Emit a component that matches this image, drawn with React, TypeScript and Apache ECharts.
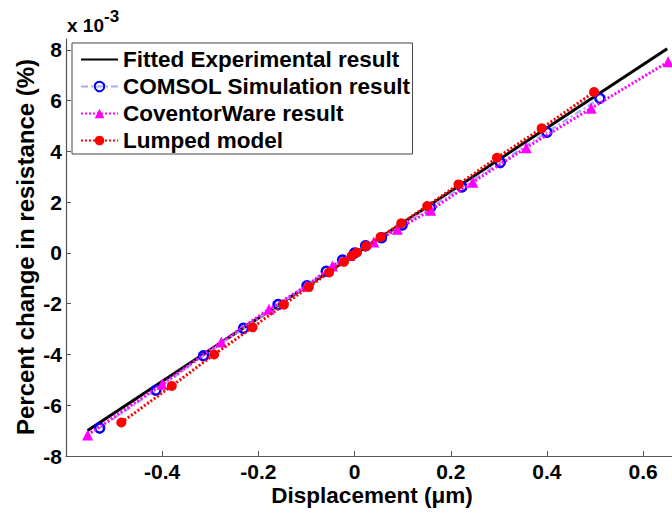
import React, { useEffect, useRef } from "react";
import * as echarts from "echarts";

const fittedX = [-0.555, 0.65];
const fittedY = [-7.0, 8.05];

const comsolX = [-0.53, -0.413, -0.314, -0.231, -0.159, -0.099, -0.059, -0.025, 0, 0.023, 0.056, 0.099, 0.158, 0.223, 0.303, 0.4, 0.51];
const comsolY = [-6.9, -5.41, -4.05, -2.97, -2.03, -1.29, -0.72, -0.28, 0, 0.28, 0.6, 1.1, 1.79, 2.6, 3.56, 4.76, 6.09];

const coventorX = [-0.555, -0.4, -0.277, -0.178, -0.1, -0.046, -0.01, 0.04, 0.089, 0.158, 0.246, 0.357, 0.492, 0.652];
const coventorY = [-7.17, -5.17, -3.51, -2.22, -1.3, -0.51, -0.1, 0.43, 0.93, 1.68, 2.79, 4.15, 5.7, 7.53];

const lumpedX = [-0.485, -0.38, -0.292, -0.212, -0.147, -0.095, -0.053, -0.022, -0.006, 0.005, 0.024, 0.054, 0.097, 0.151, 0.216, 0.296, 0.389, 0.498];
const lumpedY = [-6.68, -5.24, -4.0, -2.93, -2.04, -1.34, -0.77, -0.35, -0.12, 0.02, 0.27, 0.63, 1.17, 1.85, 2.7, 3.75, 4.91, 6.34];

const xTicks = [-0.4, -0.2, 0, 0.2, 0.4, 0.6];
const yTicks = [-8, -6, -4, -2, 0, 2, 4, 6, 8];

const seriesNames = [
  "Fitted Experimental result",
  "COMSOL Simulation result",
  "CoventorWare result",
  "Lumped model",
];

const zip = (xs: number[], ys: number[]) => xs.map((x, i) => [x, ys[i]]);

const FONT = "'Liberation Sans', Arial, sans-serif";

export default function App() {
  const ref = useRef<HTMLDivElement>(null);
  useEffect(() => {
    if (!ref.current) return;
    const chart = echarts.init(ref.current, null, { renderer: "svg" });
    chart.setOption({
      animation: false,
      backgroundColor: "#ffffff",
      grid: { left: 66, right: 0, top: 39, bottom: 56 },
      xAxis: {
        type: "value",
        min: -0.6,
        max: 0.66,
        interval: 0.2,
        splitLine: { show: false },
        axisLine: { onZero: false, lineStyle: { color: "#555", width: 1.2 } },
        axisTick: { inside: true, length: 5, customValues: xTicks, lineStyle: { color: "#555" } },
        axisLabel: {
          customValues: xTicks,
          color: "#000",
          fontSize: 21,
          fontWeight: "bold",
          fontFamily: FONT,
          margin: 5,
          formatter: (v: number) => String(Math.round(v * 10) / 10),
        },
      },
      yAxis: {
        type: "value",
        min: -8,
        max: 8.43,
        interval: 2,
        splitLine: { show: false },
        axisLine: { onZero: false, lineStyle: { color: "#555", width: 1.2 } },
        axisTick: { inside: true, length: 5, customValues: yTicks, lineStyle: { color: "#555" } },
        axisLabel: {
          customValues: yTicks,
          color: "#000",
          fontSize: 21,
          fontWeight: "bold",
          fontFamily: FONT,
          margin: 4,
        },
      },
      legend: {
        orient: "vertical",
        left: 72,
        top: 43,
        padding: [5, 2, 2, 8],
        itemGap: 4,
        itemWidth: 37,
        itemHeight: 12,
        borderColor: "#444",
        borderWidth: 1,
        backgroundColor: "#fff",
        data: [
          { name: seriesNames[0], itemStyle: { opacity: 0 } },
          seriesNames[1],
          seriesNames[2],
          seriesNames[3],
        ],
        textStyle: {
          color: "#000",
          fontSize: 22.5,
          fontWeight: "bold",
          fontFamily: FONT,
          lineHeight: 22,
        },
      },
      graphic: [
        {
          type: "text",
          left: 67,
          top: 16,
          style: { text: "x 10", fill: "#000", font: `bold 19px ${FONT}` },
        },
        {
          type: "text",
          left: 104,
          top: 8,
          style: { text: "-3", fill: "#000", font: `bold 17px ${FONT}` },
        },
        {
          type: "text",
          x: 25,
          y: 247,
          rotation: Math.PI / 2,
          style: {
            text: "Percent change in resistance (%)",
            fill: "#000",
            font: `bold 24px ${FONT}`,
            align: "center",
            verticalAlign: "middle",
          },
        },
        {
          type: "text",
          x: 372,
          y: 495,
          style: {
            text: "Displacement (\u03bcm)",
            fill: "#000",
            font: `bold 22.5px ${FONT}`,
            align: "center",
            verticalAlign: "middle",
          },
        },
      ],
      series: [
        {
          name: seriesNames[0],
          type: "line",
          data: zip(fittedX, fittedY),
          symbol: "none",
          lineStyle: { color: "#000", width: 3 },
          itemStyle: { color: "#000" },
          z: 2,
        },
        {
          name: seriesNames[1],
          type: "line",
          data: zip(comsolX, comsolY),
          symbol: "circle",
          symbolSize: 9,
          lineStyle: { color: "#a6aefc", width: 2.5, type: [7, 3, 2, 3] },
          itemStyle: { color: "rgba(255,255,255,0)", borderColor: "#0000ff", borderWidth: 2.5 },
          z: 3,
        },
        {
          name: seriesNames[2],
          type: "line",
          data: zip(coventorX, coventorY),
          symbol: "triangle",
          symbolSize: 11,
          lineStyle: { color: "#ff00ff", width: 3, type: [2, 2] },
          itemStyle: { color: "#ff00ff" },
          z: 4,
        },
        {
          name: seriesNames[3],
          type: "line",
          data: zip(lumpedX, lumpedY),
          symbol: "circle",
          symbolSize: 10,
          lineStyle: { color: "#ff0000", width: 3, type: [2, 2] },
          itemStyle: { color: "#ff0000" },
          z: 5,
        },
      ],
    });
    return () => chart.dispose();
  }, []);
  return (
    <div
      ref={ref}
      style={{ position: "fixed", left: 0, top: 0, width: 672, height: 512 }}
    />
  );
}
